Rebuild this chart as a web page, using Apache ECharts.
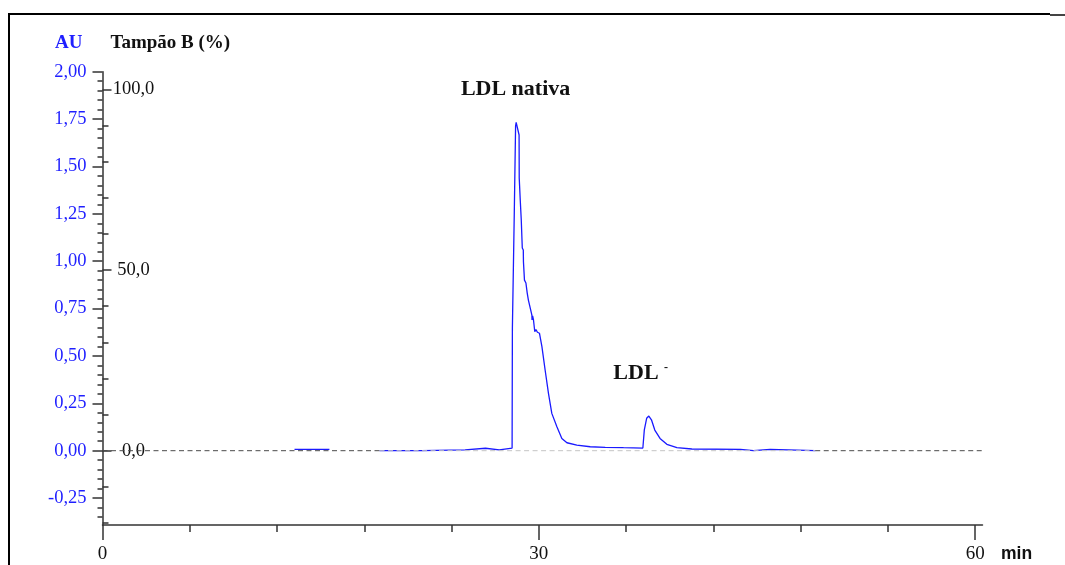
<!DOCTYPE html>
<html>
<head>
<meta charset="utf-8">
<script src="https://cdn.jsdelivr.net/npm/echarts@6/dist/echarts.min.js"></script>
<style>
  html, body { margin: 0; padding: 0; background: #ffffff; }
  #chart { width: 1065px; height: 565px; }
</style>
</head>
<body>
<div id="chart"></div>
<script>
// Chromatogram trace: retention time (min) and absorbance (AU); null = no signal recorded
const retentionTime = [
  13.2, 15.6, 15.62,
  19.05, 21.95, 21.96, 24.93, 24.94, 26.33, 26.34, 27.28, 27.29, 28.16,
  28.18, 28.30, 28.31, 28.39, 28.40, 28.44,
  28.53, 28.64, 28.65, 28.71, 28.72, 28.78, 28.79, 28.85, 28.86, 28.93, 28.94, 29.00, 29.01,
  29.11, 29.20, 29.28, 29.52, 29.53, 29.57, 29.63, 29.72, 29.80, 29.90, 30.04,
  30.21, 30.43, 30.66, 30.89, 31.24, 31.58, 31.93, 32.61, 33.53, 34.56, 35.82, 37.15,
  37.25, 37.41, 37.56, 37.74, 37.97, 38.33, 38.80, 39.49, 40.52, 43.86, 43.90,
  44.75, 44.76, 45.90, 45.95, 49.0
];
const absorbance = [
  0.007, 0.007, null,
  0.000, 0.000, 0.004, 0.004, 0.013, 0.013, 0.004, 0.004, 0.013, 0.014,
  0.649, 0.655, 1.254, 1.260, 1.713, 1.733,
  1.728, 1.666, 1.439, 1.430, 1.323, 1.314, 1.217, 1.214, 1.070, 1.059, 0.997, 0.990, 0.900,
  0.885, 0.832, 0.795, 0.716, 0.690, 0.712, 0.690, 0.628, 0.640, 0.625, 0.620,
  0.549, 0.426, 0.303, 0.197, 0.127, 0.065, 0.042, 0.030, 0.021, 0.018, 0.016, 0.014,
  0.110, 0.171, 0.183, 0.163, 0.109, 0.065, 0.034, 0.016, 0.009, 0.007, 0.000,
  0.000, 0.007, 0.007, 0.000, 0.000
];

// Buffer B gradient (%), held at 0 for the whole run
const gradientTime = [0, 19.05, 49.0, 60.5];
const gradientPercent = [0, 0, 0, 0];

// Peak annotations
const peakNames = ['LDL nativa', 'LDL'];
const peakLabelTime = [28.4, 37.0];
const peakLabelAU = [1.908, 0.410];

// Axis tick labels
const auTicks = [-0.25, 0, 0.25, 0.5, 0.75, 1.0, 1.25, 1.5, 1.75, 2.0];
const bufferTicks = [0, 50, 100];
const bufferMinorTicks = [-20, -10, 10, 20, 30, 40, 60, 70, 80, 90];
const timeTicks = [0, 30, 60];
const timeMinorTicks = [6, 12, 18, 24, 36, 42, 48, 54];

const AU_MIN = -0.392, AU_MAX = 2.0;
const B_MIN = -20.56, B_MAX = 104.87;
const T_MIN = 0, T_MAX = 60.5;

const serif = "'Liberation Serif', 'Times New Roman', serif";
const blue = '#1f1fff';
const axisColor = '#333333';

// minor AU ticks every 0.05 between the labelled ones
const auMinorTicks = [];
for (let i = -7; i <= 39; i++) {
  if (i % 5 !== 0) auMinorTicks.push(+(i * 0.05).toFixed(2));
}

const traceData = retentionTime.map((t, i) => [t, absorbance[i] === null ? '-' : absorbance[i]]);

// gradient line drawn in segments: outside the detected range dark, inside light
const gradientShade = ['#4a4a4a', '#c4c4c4', '#4a4a4a'];
const gradientSeries = [];
for (let i = 0; i < gradientTime.length - 1; i++) {
  gradientSeries.push({
    type: 'line',
    xAxisIndex: 0,
    yAxisIndex: 2,
    data: [[gradientTime[i], gradientPercent[i]], [gradientTime[i + 1], gradientPercent[i + 1]]],
    symbol: 'none',
    silent: true,
    z: 5,
    lineStyle: { color: gradientShade[i], width: 1, type: [5, 3.5] }
  });
}

const chart = echarts.init(document.getElementById('chart'), null, { renderer: 'canvas' });

chart.setOption({
  animation: false,
  backgroundColor: '#ffffff',
  grid: { left: 102.5, right: 82.5, top: 71.7, bottom: 40, containLabel: false },
  xAxis: [
    {
      type: 'value', min: T_MIN, max: T_MAX, position: 'bottom',
      axisLine: { show: true, onZero: false, lineStyle: { color: axisColor, width: 1.5 } },
      axisTick: { show: true, length: 15, customValues: timeTicks, lineStyle: { color: axisColor, width: 1.5 } },
      axisLabel: {
        show: true, customValues: timeTicks, margin: 20,
        fontFamily: serif, fontSize: 19, color: '#111111'
      },
      splitLine: { show: false }
    },
    {
      type: 'value', min: T_MIN, max: T_MAX, position: 'bottom',
      axisLine: { show: false, onZero: false },
      axisTick: { show: true, length: 7, customValues: timeMinorTicks, lineStyle: { color: axisColor, width: 1.5 } },
      axisLabel: { show: false },
      splitLine: { show: false }
    }
  ],
  yAxis: [
    {
      type: 'value', min: AU_MIN, max: AU_MAX, position: 'left',
      axisLine: { show: true, onZero: false, lineStyle: { color: axisColor, width: 1.5 } },
      axisTick: { show: true, length: 10, customValues: auTicks, lineStyle: { color: axisColor, width: 1.5 } },
      axisLabel: {
        show: true, customValues: auTicks, margin: 16,
        fontFamily: serif, fontSize: 18.5, color: blue,
        formatter: v => v.toFixed(2).replace('.', ',')
      },
      splitLine: { show: false },
      name: 'AU', nameLocation: 'end', nameGap: 29,
      nameTextStyle: {
        fontFamily: serif, fontWeight: 'bold', fontSize: 19, color: blue,
        align: 'right', verticalAlign: 'middle', padding: [0, 20, 0, 0]
      }
    },
    {
      type: 'value', min: AU_MIN, max: AU_MAX, position: 'left',
      axisLine: { show: false, onZero: false },
      axisTick: { show: true, length: 5, customValues: auMinorTicks, lineStyle: { color: axisColor, width: 1.5 } },
      axisLabel: { show: false },
      splitLine: { show: false }
    },
    {
      type: 'value', min: B_MIN, max: B_MAX, position: 'left',
      axisLine: { show: false, onZero: false },
      axisTick: { show: true, inside: true, length: 9, customValues: bufferTicks, lineStyle: { color: axisColor, width: 1.5 } },
      axisLabel: {
        show: true, inside: true, customValues: bufferTicks, margin: 31, align: 'center',
        fontFamily: serif, fontSize: 18.5, color: '#111111',
        formatter: v => v.toFixed(1).replace('.', ',')
      },
      splitLine: { show: false },
      name: 'Tampão B (%)', nameLocation: 'end', nameGap: 29,
      nameTextStyle: {
        fontFamily: serif, fontWeight: 'bold', fontSize: 19, color: '#111111',
        align: 'left', verticalAlign: 'middle', padding: [0, 0, 0, 8]
      }
    },
    {
      type: 'value', min: B_MIN, max: B_MAX, position: 'left',
      axisLine: { show: false, onZero: false },
      axisTick: { show: true, inside: true, length: 6, customValues: bufferMinorTicks, lineStyle: { color: axisColor, width: 1.5 } },
      axisLabel: { show: false },
      splitLine: { show: false }
    }
  ],
  series: [
    {
      type: 'line',
      name: 'AU',
      xAxisIndex: 0,
      yAxisIndex: 0,
      data: traceData,
      symbol: 'none',
      connectNulls: false,
      z: 3,
      lineStyle: { color: '#1a1aff', width: 1.3 },
      markPoint: {
        symbol: 'rect',
        symbolSize: 1,
        itemStyle: { color: 'rgba(0,0,0,0)' },
        label: {
          show: true, position: 'inside',
          fontFamily: serif, fontWeight: 'bold', fontSize: 22, color: '#111111'
        },
        data: peakNames.map((n, i) => ({
          coord: [peakLabelTime[i], peakLabelAU[i]],
          label: { formatter: i === 1 ? '{m|LDL} {s|-}' : n,
            rich: {
              m: { fontFamily: serif, fontWeight: 'bold', fontSize: 22, color: '#111111' },
              s: { fontFamily: serif, fontWeight: 'bold', fontSize: 12, color: '#111111', verticalAlign: 'top', padding: [0, 0, 10, 0] }
            }
          }
        }))
      }
    }
  ].concat(gradientSeries),
  graphic: [
    { type: 'line', silent: true, shape: { x1: 9, y1: 13, x2: 9, y2: 565 }, style: { stroke: '#000000', lineWidth: 2 } },
    { type: 'line', silent: true, shape: { x1: 8, y1: 14, x2: 1050, y2: 14 }, style: { stroke: '#000000', lineWidth: 2 } },
    { type: 'line', silent: true, shape: { x1: 1050, y1: 15, x2: 1065, y2: 15 }, style: { stroke: '#444444', lineWidth: 2 } },
    // time-axis unit, set beside the last tick label
    {
      type: 'text', silent: true, left: 1001, top: 545,
      style: {
        text: 'min', fill: '#111111',
        font: "bold 17.5px 'Liberation Sans', Arial, sans-serif"
      }
    }
  ]
});
</script>
</body>
</html>
